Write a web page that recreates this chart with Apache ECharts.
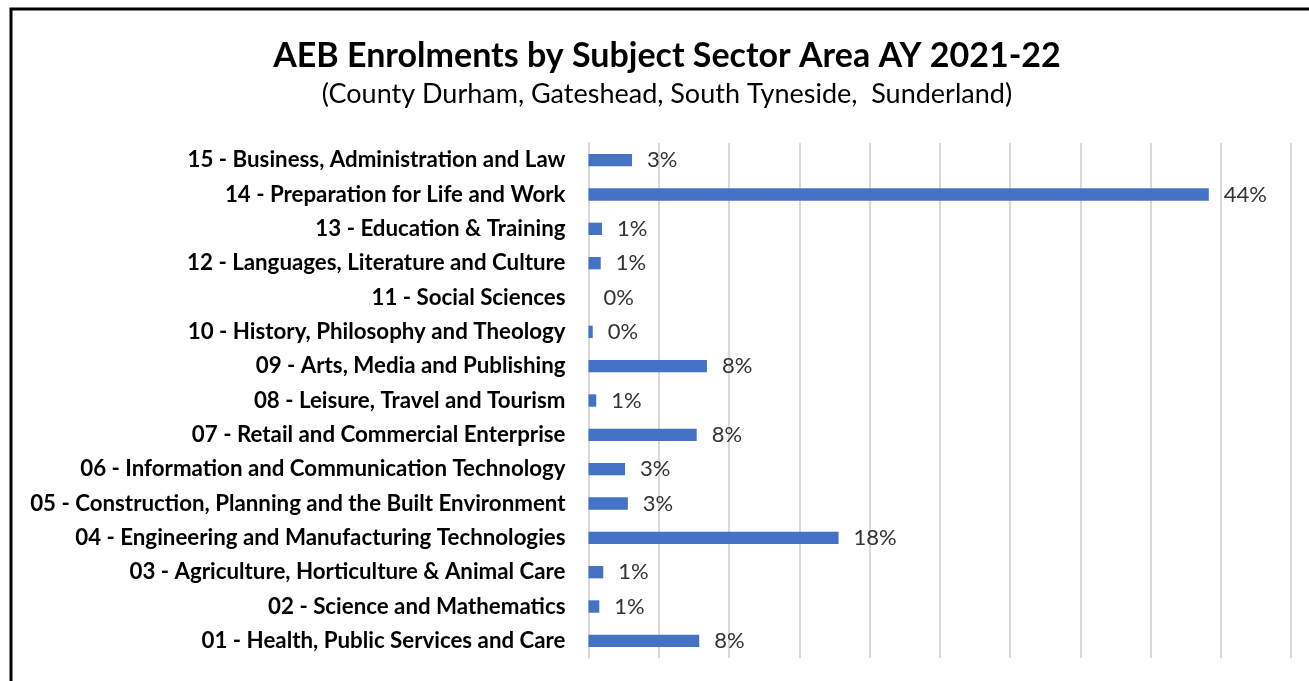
<!DOCTYPE html>
<html>
<head>
<meta charset="utf-8">
<title>AEB Enrolments by Subject Sector Area AY 2021-22</title>
<script src="https://cdn.jsdelivr.net/npm/echarts@6/dist/echarts.min.js"></script>
<style>
  html, body { margin: 0; padding: 0; background: #fff; }
  #chart { width: 1309px; height: 681px; }
</style>
</head>
<body>
<div id="chart"></div>
<script>
// Subject sector areas, listed top to bottom
const sectors = [
  '15 - Business, Administration and Law',
  '14 - Preparation for Life and Work',
  '13 - Education & Training',
  '12 - Languages, Literature and Culture',
  '11 - Social Sciences',
  '10 - History, Philosophy and Theology',
  '09 - Arts, Media and Publishing',
  '08 - Leisure, Travel and Tourism',
  '07 - Retail and Commercial Enterprise',
  '06 - Information and Communication Technology',
  '05 - Construction, Planning and the Built Environment',
  '04 - Engineering and Manufacturing Technologies',
  '03 - Agriculture, Horticulture & Animal Care',
  '02 - Science and Mathematics',
  '01 - Health, Public Services and Care'
];

// Share of enrolments (%) per sector
const enrolmentShare = [3.1, 44.15, 0.96, 0.87, 0, 0.3, 8.43, 0.55, 7.7, 2.6, 2.8, 17.8, 1.05, 0.77, 7.88];

const titleText = 'AEB Enrolments by Subject Sector Area AY 2021-22';
const subtitleText = '(County Durham, Gateshead, South Tyneside,  Sunderland)';

const chart = echarts.init(document.getElementById('chart'), null, { renderer: 'canvas' });

chart.setOption({
  animation: false,
  backgroundColor: '#ffffff',
  graphic: [{
    type: 'rect',
    shape: { x: 11, y: 9, width: 1400, height: 800 },
    style: { fill: 'none', stroke: '#000000', lineWidth: 3 },
    silent: true
  }],
  title: {
    text: titleText,
    subtext: subtitleText,
    left: 662,
    textAlign: 'center',
    top: 34,
    itemGap: 8,
    textStyle: {
      fontFamily: 'Lato',
      fontWeight: 'bold',
      fontSize: 34,
      color: '#000000'
    },
    subtextStyle: {
      fontFamily: 'Lato',
      fontSize: 27,
      color: '#000000'
    }
  },
  grid: {
    left: 588.5,
    right: 18,
    top: 143,
    bottom: 23,
    containLabel: false
  },
  xAxis: {
    type: 'value',
    min: 0,
    max: 50,
    interval: 5,
    axisLine: { show: false },
    axisTick: { show: false },
    axisLabel: { show: false },
    splitLine: { show: true, lineStyle: { color: '#d9d9d9', width: 2 } }
  },
  yAxis: {
    type: 'category',
    inverse: true,
    data: sectors,
    axisLine: { show: true, lineStyle: { color: '#d9d9d9', width: 2 } },
    axisTick: { show: false },
    axisLabel: {
      margin: 23,
      fontFamily: 'Lato',
      fontWeight: 'bold',
      fontSize: 22.3,
      color: '#000000'
    }
  },
  series: [{
    type: 'bar',
    data: enrolmentShare,
    barCategoryGap: '64%',
    itemStyle: { color: '#4472C4' },
    label: {
      show: true,
      position: 'right',
      distance: 15,
      fontFamily: 'Lato',
      fontSize: 22,
      color: '#333333',
      formatter: p => Math.round(p.value) + '%'
    }
  }]
});
</script>
</body>
</html>
